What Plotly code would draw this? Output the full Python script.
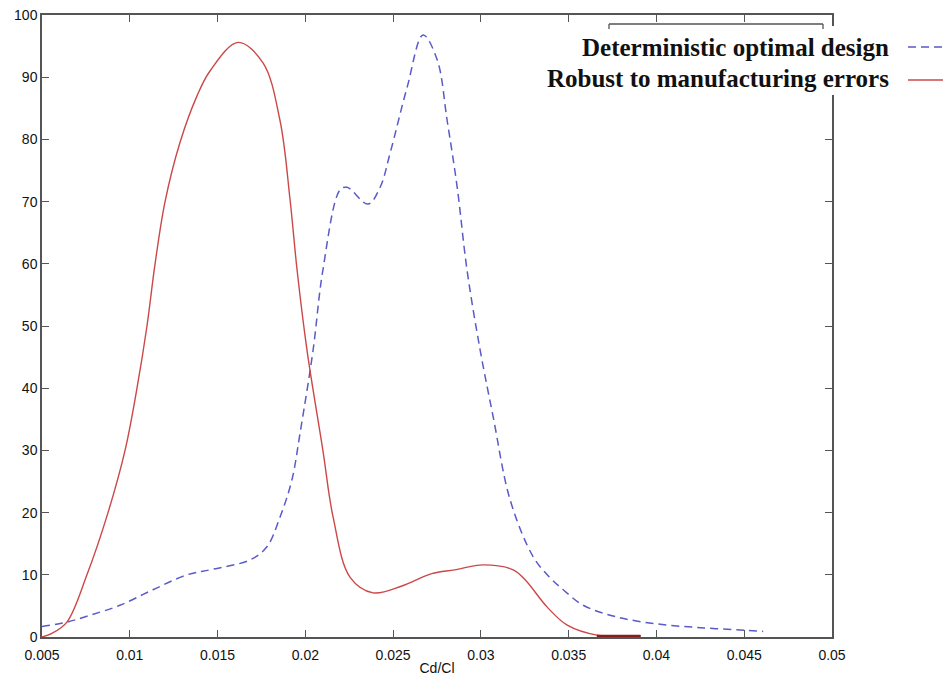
import plotly.graph_objects as go

# Deterministic optimal design (dashed blue)
det_x = [0.005, 0.00642, 0.00774, 0.00944, 0.01132, 0.01326, 0.01474, 0.01685,
         0.01781, 0.01856, 0.01923, 0.0197, 0.02044, 0.0210, 0.02198, 0.02238,
         0.02357, 0.02426, 0.02483, 0.0258, 0.02671, 0.02751, 0.02808, 0.02865,
         0.02921, 0.02996, 0.0307, 0.03167, 0.03298, 0.03395, 0.03469, 0.03583,
         0.03777, 0.04004, 0.04249, 0.045, 0.04608]
det_y = [1.7, 2.4, 3.5, 5.1, 7.6, 10.0, 10.9, 12.4,
         14.5, 19.3, 25.2, 32.8, 46.1, 59.0, 71.9, 72.3,
         69.6, 72.3, 77.8, 88.4, 96.8, 92.8, 83.0, 72.3,
         59.0, 46.1, 35.4, 22.0, 12.9, 9.5, 7.6, 5.1,
         3.2, 2.1, 1.5, 1.1, 0.9]

# Robust to manufacturing errors (solid red)
rob_x = [0.005, 0.00557, 0.00642, 0.00756, 0.00876, 0.00973, 0.01041, 0.01098,
         0.01144, 0.01201, 0.01286, 0.01383, 0.01457, 0.01617, 0.01759, 0.01856,
         0.01913, 0.01953, 0.0201, 0.0210, 0.02158, 0.02255, 0.02386, 0.0255,
         0.0272, 0.0285, 0.03013, 0.03184, 0.03252, 0.03378, 0.03492, 0.03662,
         0.0391]
rob_y = [0.0, 0.6, 2.4, 10.0, 20.0, 30.0, 40.0, 50.0,
         60.0, 70.0, 79.5, 87.0, 91.0, 95.6, 92.3, 83.0,
         70.3, 59.0, 46.0, 30.0, 19.3, 9.6, 7.1, 8.2,
         10.2, 10.8, 11.6, 10.8, 9.2, 4.8, 1.9, 0.3,
         0.15]

# short dark tail of the robust curve
tail_x = [0.0366, 0.0391]
tail_y = [0.15, 0.15]

x_ticks = [0.005, 0.01, 0.015, 0.02, 0.025, 0.03, 0.035, 0.04, 0.045, 0.05]
x_labels = ["0.005", "0.01", "0.015", "0.02", "0.025", "0.03", "0.035", "0.04", "0.045", "0.05"]
y_ticks = [0, 10, 20, 30, 40, 50, 60, 70, 80, 90, 100]

BLUE = "#5a5ac8"
RED = "#cc4848"

fig = go.Figure()
fig.add_trace(go.Scatter(x=det_x, y=det_y, mode="lines", line_shape="spline",
                         line=dict(color=BLUE, width=1.5, dash="8px,5px"),
                         showlegend=False))
fig.add_trace(go.Scatter(x=rob_x, y=rob_y, mode="lines", line_shape="spline",
                         line=dict(color=RED, width=1.4), showlegend=False))
fig.add_trace(go.Scatter(x=tail_x, y=tail_y, mode="lines",
                         line=dict(color="#8b1c1c", width=2.5), showlegend=False))

tick_font = dict(family="Liberation Sans, Arial", size=14, color="#111111")
axis_common = dict(showline=True, linecolor="#555555", linewidth=1.5, mirror="ticks",
                   ticks="inside", ticklen=7, tickcolor="#555555", tickwidth=1.2,
                   showgrid=False, zeroline=False, tickfont=tick_font, automargin=False,
                   ticklabeloverflow="allow")

fig.update_xaxes(range=[0.005, 0.05], tickvals=x_ticks, ticktext=x_labels,
                 ticklabelstandoff=4,
                 title=dict(text="Cd/Cl", font=tick_font, standoff=2),
                 **axis_common)
fig.update_yaxes(range=[0, 100], tickvals=y_ticks, **axis_common)

# the page body has an 8px margin, so the figure is 8px smaller on each side
# hand-drawn legend box (text left of the line samples)
def px_x(p):
    return (p - 42) / 790


def px_y(p):
    return (637 - p) / 622


shapes = [
    dict(type="rect", xref="paper", yref="paper", x0=px_x(548), x1=px_x(951),
         y0=px_y(95), y1=px_y(26), fillcolor="white", line=dict(width=0), layer="above"),
    dict(type="line", xref="paper", yref="paper", x0=px_x(609), x1=px_x(823),
         y0=px_y(24), y1=px_y(24), line=dict(color="#555555", width=1.3), layer="above"),
    dict(type="line", xref="paper", yref="paper", x0=px_x(609), x1=px_x(609),
         y0=px_y(24), y1=px_y(29), line=dict(color="#555555", width=1.3), layer="above"),
    dict(type="line", xref="paper", yref="paper", x0=px_x(823), x1=px_x(823),
         y0=px_y(24), y1=px_y(29), line=dict(color="#555555", width=1.3), layer="above"),
    dict(type="line", xref="paper", yref="paper", x0=px_x(908), x1=px_x(946),
         y0=px_y(47), y1=px_y(47), line=dict(color=BLUE, width=1.5, dash="8px,5px"),
         layer="above"),
    dict(type="line", xref="paper", yref="paper", x0=px_x(908), x1=px_x(946),
         y0=px_y(80), y1=px_y(80), line=dict(color=RED, width=1.5), layer="above"),
]

legend_font = dict(family="Liberation Serif, Times New Roman", size=25, color="#111111")
annotations = [
    dict(text="<b>Deterministic optimal design</b>", xref="paper", yref="paper",
         x=px_x(891), y=px_y(47), xanchor="right", yanchor="middle", showarrow=False,
         font=legend_font),
    dict(text="<b>Robust to manufacturing errors</b>", xref="paper", yref="paper",
         x=px_x(891), y=px_y(79), xanchor="right", yanchor="middle", showarrow=False,
         font=legend_font),
]

fig.update_layout(width=943, height=679, margin=dict(l=34, r=119, t=7, b=50),
                  plot_bgcolor="white", paper_bgcolor="white",
                  shapes=shapes, annotations=annotations)

fig.write_html("out.html")
